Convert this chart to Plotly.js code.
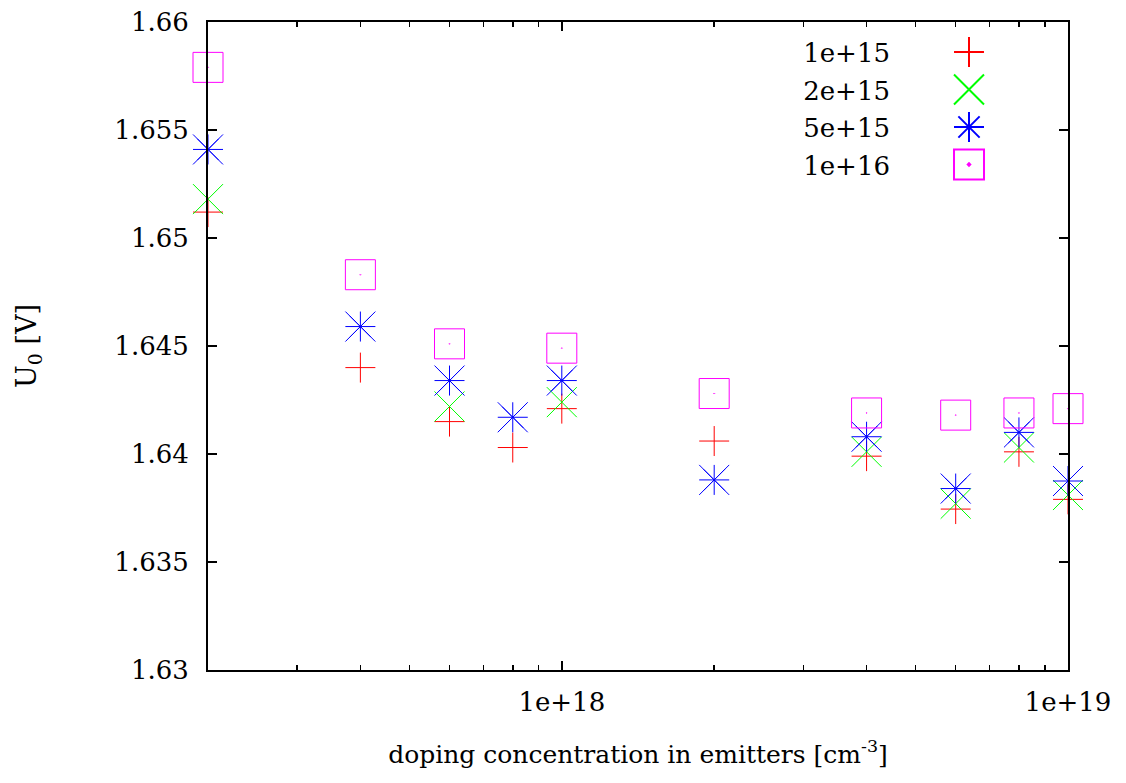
<!DOCTYPE html>
<html>
<head>
<meta charset="utf-8">
<script src="https://cdn.plot.ly/plotly-3.0.1.min.js"></script>
<style>
  html, body { margin: 0; padding: 0; background: #fff; }
  #chart { width: 1126px; height: 783px; }
</style>
</head>
<body>
<div id="chart"></div>
<script>
// ---- data ----
var dopingEmitter = [2e17, 4e17, 6e17, 8e17, 1e18, 2e18, 4e18, 6e18, 8e18, 1e19];
var seriesNames = ['1e+15', '2e+15', '5e+15', '1e+16'];
var u0_1e15 = [1.6512, 1.6440, 1.6415, 1.6403, 1.6421, 1.6406, 1.6399, 1.63745, 1.6401, 1.6379];
var u0_2e15 = [1.6518, null, 1.6422, null, 1.6424, null, 1.6401, 1.6377, 1.6403, 1.6381];
var u0_5e15 = [1.6541, 1.6459, 1.6434, 1.6417, 1.6434, 1.6388, 1.6408, 1.6384, 1.6410, 1.63875];
var u0_1e16 = [1.6579, 1.6483, 1.6451, null, 1.6449, 1.6428, 1.6419, 1.6418, 1.6419, 1.6421];

var xTickVals = [1e18, 1e19];
var xTickText = ['1e+18', '1e+19'];
var xMinorVals = [3e17, 4e17, 5e17, 6e17, 7e17, 8e17, 9e17, 2e18, 3e18, 4e18, 5e18, 6e18, 7e18, 8e18, 9e18];
var yTickVals = [1.63, 1.635, 1.64, 1.645, 1.65, 1.655, 1.66];
var yTickText = ['1.63', '1.635', '1.64', '1.645', '1.65', '1.655', '1.66'];

var FONT = '"DejaVu Serif", serif';

function pts(y, name, color, symbol, size, showlegend) {
  return {
    type: 'scatter', mode: 'markers', x: dopingEmitter, y: y, name: name,
    showlegend: showlegend, cliponaxis: false,
    marker: { symbol: symbol, size: size, color: color, line: { color: color, width: 1 } }
  };
}

var traces = [
  pts(u0_1e15, seriesNames[0], '#ff0000', 'cross-thin-open', 21.4, true),
  pts(u0_2e15, seriesNames[1], '#00ff00', 'x-thin-open', 30, true),
  pts(u0_5e15, seriesNames[2], '#0000ff', 'asterisk-open', 25, true),
  pts(u0_5e15, seriesNames[2], '#0000ff', 'x-thin-open', 30, false),
  pts(u0_1e16, seriesNames[3], '#ff00ff', 'square-open-dot', 30, true)
];
var legendScale = [21.4 / 12, 30 / 12, 25 / 12, 30 / 12];

var layout = {
  width: 1126, height: 783,
  margin: { l: 208, r: 58, t: 22, b: 113 },
  paper_bgcolor: '#fff', plot_bgcolor: '#fff',
  font: { family: FONT, size: 26, color: '#000' },
  showlegend: true,
  legend: { x: 0.7, y: 1, xanchor: 'left', yanchor: 'top', bgcolor: 'rgba(0,0,0,0)',
            itemsizing: 'constant', font: { family: FONT, size: 26, color: '#000' } },
  xaxis: {
    type: 'log', range: [Math.log10(2e17), 19],
    showgrid: false, zeroline: false, showline: true, linecolor: '#000', linewidth: 2,
    mirror: 'allticks', ticks: 'inside', ticklen: 9, tickwidth: 1.5, tickcolor: '#000',
    tickmode: 'array', tickvals: xTickVals, ticktext: xTickText,
    tickfont: { family: FONT, size: 26 }, ticklabelstandoff: 8,
    minor: { tickmode: 'array', tickvals: xMinorVals, ticks: 'inside', ticklen: 5, tickwidth: 1.5, tickcolor: '#000' },
    title: { text: 'doping concentration in emitters [cm<sup>-3</sup>]', font: { family: FONT, size: 25 }, standoff: 29 }
  },
  yaxis: {
    range: [1.63, 1.66],
    showgrid: false, zeroline: false, showline: true, linecolor: '#000', linewidth: 2,
    mirror: 'allticks', ticks: 'inside', ticklen: 9, tickwidth: 1.5, tickcolor: '#000',
    tickmode: 'array', tickvals: yTickVals, ticktext: yTickText,
    tickfont: { family: FONT, size: 26 }, ticklabelstandoff: 12,
    title: { text: 'U<sub>0</sub> [V]', font: { family: FONT, size: 27 }, standoff: 70 }
  }
};

var gd = document.getElementById('chart');
Plotly.newPlot(gd, traces, layout, { staticPlot: true, displayModeBar: false }).then(function () {
  gd.querySelectorAll('.legend [clip-path]').forEach(function (e) { e.removeAttribute('clip-path'); });
  var items = gd.querySelectorAll('.legend .traces');
  var SYM_X = 969, ROW_Y0 = 52, ROW_DY = 37.5, TEXT_RIGHT = 890;
  items.forEach(function (g, i) {
    var lp = g.querySelector('.legendpoints');
    if (!lp) return;
    var r = lp.getBoundingClientRect();
    var cy = r.top + r.height / 2;
    var dy = ROW_Y0 + i * ROW_DY - cy;
    g.setAttribute('transform', (g.getAttribute('transform') || '') + ' translate(0,' + dy + ')');
    var bb = lp.getBBox();
    var lcx = bb.x + bb.width / 2, lcy = bb.y + bb.height / 2;
    var r2 = lp.getBoundingClientRect();
    var scx = r2.left + r2.width / 2;
    var dx = SYM_X - scx;
    var k = legendScale[i] || 1;
    lp.setAttribute('transform', (lp.getAttribute('transform') || '') +
      ' translate(' + (lcx + dx) + ',' + lcy + ') scale(' + k + ') translate(' + (-lcx) + ',' + (-lcy) + ')');
    lp.querySelectorAll('path').forEach(function (p) { p.setAttribute('vector-effect', 'non-scaling-stroke'); });
    // shift legend text so that its right edge lands left of the symbol (gnuplot key style)
    var txt = g.querySelector('text.legendtext');
    if (txt) {
      var tr = txt.getBoundingClientRect();
      var shift = TEXT_RIGHT - tr.right;
      var cx = parseFloat(txt.getAttribute('x') || '0');
      txt.setAttribute('x', cx + shift);
      txt.querySelectorAll('tspan[x]').forEach(function (t) {
        t.setAttribute('x', parseFloat(t.getAttribute('x')) + shift);
      });
    }
  });
});
</script>
</body>
</html>
